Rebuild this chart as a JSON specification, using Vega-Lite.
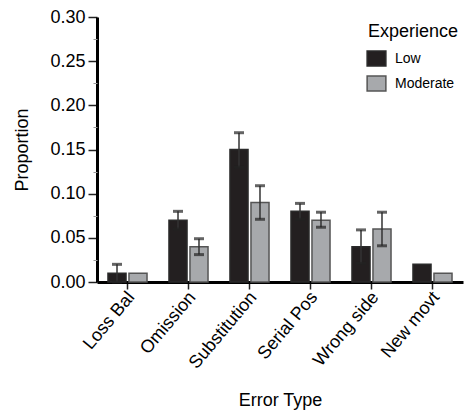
{
  "$schema": "https://vega.github.io/schema/vega-lite/v6.json",
  "width": 366,
  "height": 265,
  "autosize": "none",
  "padding": {"left": 97, "top": 17, "right": 1, "bottom": 131},
  "background": "white",
  "config": {
    "font": "Liberation Sans",
    "view": {"stroke": null},
    "axis": {"grid": false, "labelFont": "Liberation Sans", "titleFont": "Liberation Sans", "labelColor": "black", "titleColor": "black", "titleFontWeight": "normal"}
  },
  "data": {
    "values": [
      {"type": "Loss Bal", "exp": "Low", "p": 0.01, "lo": 0.0, "hi": 0.02},
      {"type": "Loss Bal", "exp": "Moderate", "p": 0.01, "lo": null, "hi": null},
      {"type": "Omission", "exp": "Low", "p": 0.07, "lo": 0.06, "hi": 0.08},
      {"type": "Omission", "exp": "Moderate", "p": 0.04, "lo": 0.031, "hi": 0.049},
      {"type": "Substitution", "exp": "Low", "p": 0.15, "lo": 0.13, "hi": 0.169},
      {"type": "Substitution", "exp": "Moderate", "p": 0.09, "lo": 0.071, "hi": 0.109},
      {"type": "Serial Pos", "exp": "Low", "p": 0.08, "lo": 0.071, "hi": 0.089},
      {"type": "Serial Pos", "exp": "Moderate", "p": 0.07, "lo": 0.062, "hi": 0.079},
      {"type": "Wrong side", "exp": "Low", "p": 0.04, "lo": 0.021, "hi": 0.059},
      {"type": "Wrong side", "exp": "Moderate", "p": 0.06, "lo": 0.041, "hi": 0.079},
      {"type": "New movt", "exp": "Low", "p": 0.02, "lo": null, "hi": null},
      {"type": "New movt", "exp": "Moderate", "p": 0.01, "lo": null, "hi": null}
    ]
  },
  "encoding": {
    "x": {
      "field": "type", "type": "nominal", "sort": null,
      "scale": {"paddingInner": 0.36, "paddingOuter": 0.18},
      "axis": {
        "title": "Error Type", "titleFontSize": 18, "titlePadding": 20,
        "labelAngle": -50, "labelFontSize": 18, "labelPadding": 5, "labelOffset": 4,
        "domainWidth": 3, "domainColor": "black", "tickColor": "#222", "tickWidth": 1.5, "tickSize": 7
      }
    },
    "xOffset": {"field": "exp", "type": "nominal", "scale": {"paddingInner": 0.14, "paddingOuter": 0}}
  },
  "resolve": {"axis": {"y": "independent"}},
  "layer": [
    {
      "mark": {"type": "bar", "strokeWidth": 1.5},
      "encoding": {
        "y": {
          "field": "p", "type": "quantitative",
          "scale": {"domain": [0, 0.3], "nice": false},
          "axis": {
            "title": "Proportion", "titleFontSize": 18, "titlePadding": 18,
            "values": [0, 0.05, 0.1, 0.15, 0.2, 0.25, 0.3], "format": ".2f",
            "labelFontSize": 18, "labelPadding": 3,
            "domainWidth": 3, "domainColor": "black", "tickColor": "#222", "tickWidth": 1.5, "tickSize": 9
          }
        },
        "fill": {
          "field": "exp", "type": "nominal", "title": "Experience",
          "scale": {"domain": ["Low", "Moderate"], "range": ["#231f20", "#a7a9ac"]},
          "legend": {
            "orient": "none", "legendX": 271, "legendY": 6,
            "titleFontSize": 18, "titleFontWeight": "normal", "titleColor": "black", "titlePadding": 9,
            "labelFontSize": 14, "labelColor": "black", "labelOffset": 10,
            "symbolType": "M-1.25,-1H1.25V1H-1.25Z", "symbolSize": 225, "symbolStrokeColor": "#444", "symbolStrokeWidth": 1.5,
            "rowPadding": 4
          }
        },
        "stroke": {
          "field": "exp", "type": "nominal",
          "scale": {"domain": ["Low", "Moderate"], "range": ["#2a2a2a", "#555555"]},
          "legend": null
        }
      }
    },
    {
      "mark": {"type": "rule", "color": "#333", "strokeWidth": 1.5},
      "encoding": {
        "y": {
          "field": "lo", "type": "quantitative",
          "axis": {"orient": "left", "offset": 0, "values": [0.025, 0.075, 0.125, 0.175, 0.225, 0.275], "labels": false, "domain": false, "title": null, "tickSize": 4, "tickColor": "#999", "tickWidth": 1}
        },
        "y2": {"field": "hi"}
      }
    },
    {
      "mark": {"type": "tick", "color": "#222", "thickness": 3, "size": 10},
      "encoding": {"y": {"field": "hi", "type": "quantitative", "axis": null}}
    },
    {
      "mark": {"type": "tick", "color": "#222", "thickness": 3, "size": 10},
      "encoding": {"y": {"field": "lo", "type": "quantitative", "axis": null}}
    }
  ]
}
